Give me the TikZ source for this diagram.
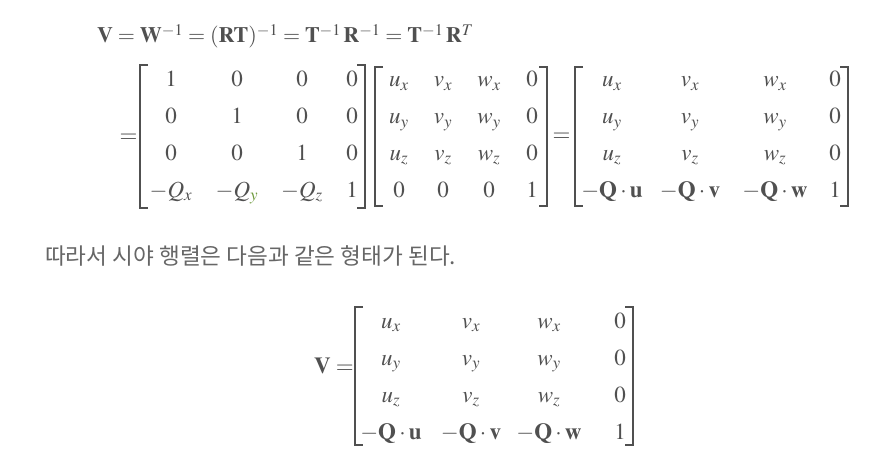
\documentclass[tikz,border=0pt]{standalone}
\usepackage{mathptmx}
\usepackage[no-math]{fontspec}
\setmainfont{Liberation Serif}
\newfontfamily\krfont{Noto Sans CJK KR}
\definecolor{ink}{HTML}{505050}
\definecolor{krink}{HTML}{666666}
\definecolor{qgreen}{HTML}{6E9A3C}
\tikzset{
  ent/.style={anchor=base, inner sep=0pt, text=ink, font=\fontsize{23}{27}\selectfont},
  brk/.style={draw=ink, line width=1.2pt},
}

\begin{document}
\begin{tikzpicture}[x=1pt, y=-1pt]
  \useasboundingbox[fill=white] (0,0) rectangle (888,462);

  \node[ent, anchor=base west, font=\fontsize{22}{26}\selectfont] (Eq) at (97,43)
    {$\mathbf{V} = \mathbf{W}^{-1} = (\mathbf{RT})^{-1} = \mathbf{T}^{-1}\,\mathbf{R}^{-1} = \mathbf{T}^{-1}\,\mathbf{R}^{T}$};
  \node[ent, anchor=center] (EqA) at (128.5,138) {$=$};
  \node[ent, anchor=center] (EqB) at (561.5,137) {$=$};

  % translation matrix
  \foreach \a/\b/\c/\d [count=\r] in {1/0/0/0, 0/1/0/0, 0/0/1/0, -Q_x/-Q_{\color{qgreen}y}/-Q_z/1} {
    \pgfmathsetmacro\yb{87+36.7*(\r-1)}
    \node[ent] (T-\r-1) at (171,\yb) {$\a$};
    \node[ent] (T-\r-2) at (237,\yb) {$\b$};
    \node[ent] (T-\r-3) at (302,\yb) {$\c$};
    \node[ent] (T-\r-4) at (352,\yb) {$\d$};
  }
  \draw[brk] (148,65) -- (140,65) -- (140,208) -- (148,208);
  \draw[brk] (357,65) -- (365,65) -- (365,208) -- (357,208);

  % rotation matrix
  \foreach \a/\b/\c/\d [count=\r] in {u_x/v_x/w_x/0, u_y/v_y/w_y/0, u_z/v_z/w_z/0, 0/0/0/1} {
    \pgfmathsetmacro\yb{87+36.7*(\r-1)}
    \node[ent] (R-\r-1) at (399,\yb) {$\a$};
    \node[ent] (R-\r-2) at (443,\yb) {$\b$};
    \node[ent] (R-\r-3) at (489,\yb) {$\c$};
    \node[ent] (R-\r-4) at (532,\yb) {$\d$};
  }
  \draw[brk] (383,67) -- (375,67) -- (375,206) -- (383,206);
  \draw[brk] (539,67) -- (547,67) -- (547,206) -- (539,206);

  % product
  \foreach \a/\b/\c/\d [count=\r] in {u_x/v_x/w_x/0, u_y/v_y/w_y/0, u_z/v_z/w_z/0,
      -\mathbf{Q}\cdot\mathbf{u}/-\mathbf{Q}\cdot\mathbf{v}/-\mathbf{Q}\cdot\mathbf{w}/1} {
    \pgfmathsetmacro\yb{87+36.7*(\r-1)}
    \node[ent] (P-\r-1) at (612,\yb) {$\a$};
    \node[ent] (P-\r-2) at (690,\yb) {$\b$};
    \node[ent] (P-\r-3) at (775,\yb) {$\c$};
    \node[ent] (P-\r-4) at (835,\yb) {$\d$};
  }
  \draw[brk] (583,67) -- (575,67) -- (575,206) -- (583,206);
  \draw[brk] (840,67) -- (848,67) -- (848,206) -- (840,206);

  \node[anchor=base west, inner sep=0pt, text=krink, font=\krfont\fontsize{22.6}{26}\selectfont] (Txt) at (45,265)
    {따라서 시야 행렬은 다음과 같은 형태가 된다.};

  % view matrix
  \node[ent, anchor=base west] (VEq) at (314,373) {$\mathbf{V} =$};
  \foreach \a/\b/\c/\d [count=\r] in {u_x/v_x/w_x/0, u_y/v_y/w_y/0, u_z/v_z/w_z/0,
      -\mathbf{Q}\cdot\mathbf{u}/-\mathbf{Q}\cdot\mathbf{v}/-\mathbf{Q}\cdot\mathbf{w}/1} {
    \pgfmathsetmacro\yb{328+37*(\r-1)}
    \node[ent] (V-\r-1) at (391,\yb) {$\a$};
    \node[ent] (V-\r-2) at (471,\yb) {$\b$};
    \node[ent] (V-\r-3) at (549,\yb) {$\c$};
    \node[ent] (V-\r-4) at (620,\yb) {$\d$};
  }
  \draw[brk] (363,307) -- (355,307) -- (355,445) -- (363,445);
  \draw[brk] (625,307) -- (633,307) -- (633,445) -- (625,445);
\end{tikzpicture}
\end{document}
